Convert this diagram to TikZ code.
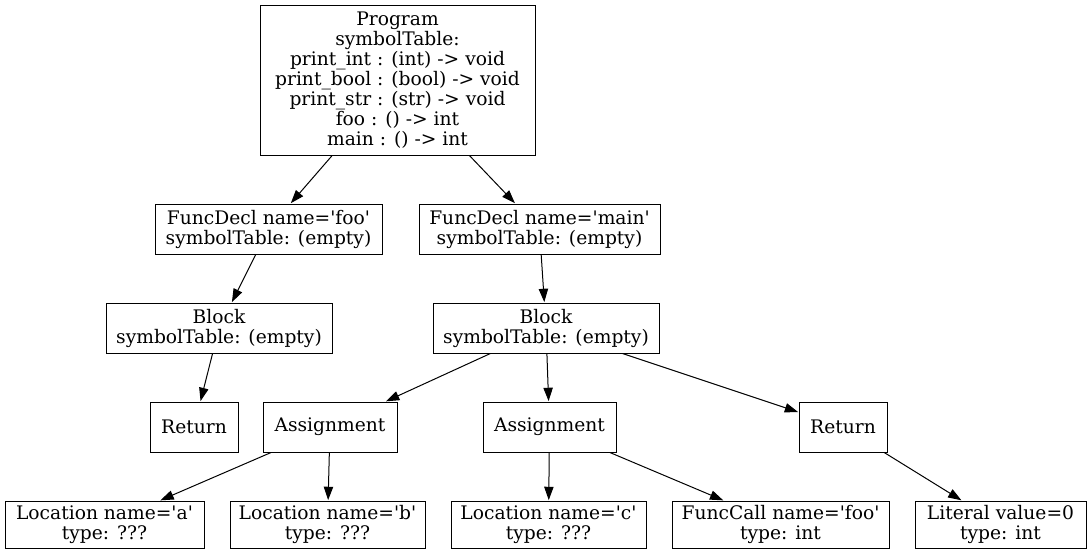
\documentclass[tikz,border=0pt]{standalone}
\usepackage{fontspec}
\setmainfont{DejaVu Serif}
\usetikzlibrary{arrows.meta}
\newcommand{\q}{\textquotesingle}
\begin{document}
\begin{tikzpicture}[x=0.75pt,y=-0.75pt,
  box/.style={draw, line width=0.75pt, inner sep=0pt, align=center,
    font=\fontsize{14}{15}\selectfont},
  edge/.style={line width=0.75pt, -{Triangle[length=10pt,width=7pt]}, shorten >=0.3pt}]
\useasboundingbox (0,0) rectangle (1091,553);
\node[box, minimum width=206.25pt, minimum height=112.5pt] (prog) at (397.5,80)
  {Program\\symbolTable:\\print\_int : (int) -> void\\print\_bool : (bool) -> void\\print\_str : (str) -> void\\foo : () -> int\\main : () -> int};
\node[box, minimum width=170.25pt, minimum height=37.5pt] (fdfoo) at (268.5,229) {FuncDecl name=\q foo\q\\symbolTable: (empty)};
\node[box, minimum width=180.75pt, minimum height=37.5pt] (fdmain) at (539.5,229) {FuncDecl name=\q main\q\\symbolTable: (empty)};
\node[box, minimum width=169.5pt, minimum height=37.5pt] (blk1) at (219,328) {Block\\symbolTable: (empty)};
\node[box, minimum width=169.5pt, minimum height=37.5pt] (blk2) at (546,328) {Block\\symbolTable: (empty)};
\node[box, minimum width=66pt, minimum height=37.5pt] (ret1) at (194,427) {Return};
\node[box, minimum width=100.5pt, minimum height=37.5pt] (as1) at (330,427) {Assignment};
\node[box, minimum width=99.75pt, minimum height=37.5pt] (as2) at (549.5,427) {Assignment};
\node[box, minimum width=66pt, minimum height=37.5pt] (ret2) at (843,427) {Return};
\node[box, minimum width=149.25pt, minimum height=35.25pt] (loca) at (104.5,524.5) {Location name=\q a\q\\type: ???};
\node[box, minimum width=146.25pt, minimum height=35.25pt] (locb) at (327.5,524.5) {Location name=\q b\q\\type: ???};
\node[box, minimum width=146.25pt, minimum height=35.25pt] (locc) at (548.5,524.5) {Location name=\q c\q\\type: ???};
\node[box, minimum width=162.75pt, minimum height=35.25pt] (fcall) at (780.5,524.5) {FuncCall name=\q foo\q\\type: int};
\node[box, minimum width=128.25pt, minimum height=35.25pt] (lit) at (1000.5,524.5) {Literal value=0\\type: int};
\draw[edge] (prog) -- (fdfoo);
\draw[edge] (prog) -- (fdmain);
\draw[edge] (fdfoo) -- (blk1);
\draw[edge] (fdmain) -- (blk2);
\draw[edge] (blk1) -- (ret1);
\draw[edge] (blk2) -- (as1);
\draw[edge] (blk2) -- (as2);
\draw[edge] (blk2) -- (ret2);
\draw[edge] (as1) -- (loca);
\draw[edge] (as1) -- (locb);
\draw[edge] (as2) -- (locc);
\draw[edge] (as2) -- (fcall);
\draw[edge] (ret2) -- (lit);
\end{tikzpicture}
\end{document}
